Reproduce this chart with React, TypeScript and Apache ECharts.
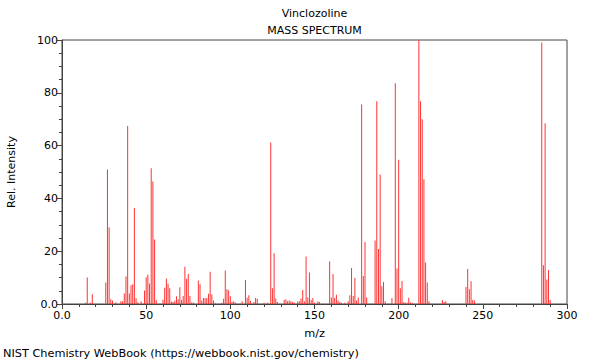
import React, { useEffect, useRef } from "react";
import * as echarts from "echarts";

const titleText = "Vinclozoline";
const subtitleText = "MASS SPECTRUM";
const xAxisName = "m/z";
const yAxisName = "Rel. Intensity";
const footerText = "NIST Chemistry WebBook (https://webbook.nist.gov/chemistry)";

const mzValues: number[] = [
  14, 15, 17, 18, 26, 27, 28, 29, 30, 32, 35, 36, 37, 38, 39, 40, 41, 42, 43, 44, 45, 47, 49, 50, 51, 52, 53, 54, 55, 56,
  60, 61, 62, 63, 64, 65, 66, 67, 68, 69, 70, 71, 72, 73, 74, 75, 76, 77, 78, 81, 82, 83, 84, 85, 86, 87, 88, 89, 90, 91,
  95, 96, 97, 98, 99, 100, 101, 102, 103, 107, 109, 110, 111, 112, 114, 115, 116, 120, 122, 124, 125, 126, 127, 128,
  132, 133, 134, 135, 136, 137, 138, 140, 141, 142, 143, 144, 145, 146, 147, 148, 149, 150, 152, 153,
  159, 160, 161, 162, 163, 164, 165, 166, 168, 170, 171, 172, 173, 174, 175, 176, 178, 179, 180, 181,
  186, 187, 188, 189, 190, 191, 192, 196, 198, 199, 200, 201, 202, 203, 204, 205, 206, 207, 208,
  212, 213, 214, 215, 216, 217, 218, 226, 227, 228, 240, 241, 242, 243, 244, 245, 285, 286, 287, 288, 289, 290,
];

const intensityValues: number[] = [
  0.5, 10.0, 0.5, 3.7, 8.1, 50.9, 29.1, 1.8, 1.3, 0.7, 1.0, 1.0, 4.0, 10.4, 67.4, 4.0, 7.1, 7.5, 36.4, 2.2, 0.7, 1.0, 5.1, 10.1, 11.2, 7.8, 51.4, 46.4, 24.4, 1.4,
  1.6, 6.2, 9.7, 7.7, 6.0, 0.9, 0.8, 1.2, 2.9, 1.8, 6.3, 1.5, 3.0, 14.1, 9.6, 11.4, 3.0, 0.6, 0.6, 8.9, 7.5, 1.3, 2.3, 2.3, 2.3, 3.9, 12.2, 3.6, 1.3, 0.4,
  0.5, 2.0, 12.7, 5.6, 5.2, 2.9, 0.8, 1.0, 0.6, 1.0, 9.1, 2.4, 3.3, 1.1, 0.8, 2.3, 2.0, 0.5, 0.5, 61.2, 6.0, 19.2, 2.1, 0.8,
  1.5, 1.8, 1.0, 1.3, 1.0, 0.8, 0.6, 0.9, 1.0, 2.1, 5.3, 1.0, 18.0, 2.5, 11.9, 1.5, 2.3, 0.5, 1.0, 0.8,
  16.2, 2.5, 11.4, 2.3, 3.5, 1.3, 0.8, 0.5, 0.5, 1.0, 3.3, 13.6, 3.0, 9.9, 1.3, 2.5, 75.6, 10.6, 23.5, 2.5,
  24.1, 76.8, 20.8, 49.1, 6.7, 8.3, 1.0, 2.3, 83.6, 13.4, 54.6, 6.0, 8.7, 0.8, 0.5, 0.5, 2.4, 0.6, 0.5,
  100, 76.8, 70.0, 47.3, 15.7, 8.1, 1.0, 1.5, 0.8, 1.0, 6.4, 13.3, 5.6, 8.6, 1.5, 1.3, 99.1, 14.7, 68.5, 9.3, 12.9, 1.5,
];

const xMin = 0;
const xMax = 300;
const xInterval = 50;
const yMin = 0;
const yMax = 100;
const yInterval = 20;

const FONT = "DejaVu Sans";

export default function App() {
  const ref = useRef<HTMLDivElement>(null);

  useEffect(() => {
    if (!ref.current) return;
    const chart = echarts.init(ref.current, undefined, { renderer: "svg" });
    const data = mzValues.map((m, i) => [m, intensityValues[i]]);
    const gridLeft = 62;
    const gridRight = 33;
    const gridTop = 40;
    const gridBottom = 56;
    const plotCenterX = gridLeft + (600 - gridLeft - gridRight) / 2;
    const plotCenterY = gridTop + (360 - gridTop - gridBottom) / 2;
    const fmt = (v: number) => (v === 0 ? "0.0" : String(v));

    chart.setOption({
      animation: false,
      backgroundColor: "#ffffff",
      grid: {
        left: gridLeft,
        right: gridRight,
        top: gridTop,
        bottom: gridBottom,
        show: true,
        borderColor: "#444",
        borderWidth: 1,
        containLabel: false,
      },
      xAxis: {
        type: "value",
        min: xMin,
        max: xMax,
        interval: xInterval,
        axisLine: { show: true, onZero: false, lineStyle: { color: "#444", width: 1 } },
        axisTick: { show: true, inside: false, length: 5, lineStyle: { color: "#444" } },
        minorTick: { show: true, splitNumber: 5, length: 3, lineStyle: { color: "#444" } },
        splitLine: { show: false },
        axisLabel: { color: "#000", fontSize: 11, fontFamily: FONT, margin: 6, formatter: fmt },
      },
      yAxis: {
        type: "value",
        min: yMin,
        max: yMax,
        interval: yInterval,
        axisLine: { show: true, lineStyle: { color: "#444", width: 1 } },
        axisTick: { show: true, inside: false, length: 5, lineStyle: { color: "#444" } },
        minorTick: { show: true, splitNumber: 4, length: 3, lineStyle: { color: "#444" } },
        splitLine: { show: false },
        axisLabel: { color: "#000", fontSize: 11, fontFamily: FONT, margin: 4, formatter: fmt },
      },
      series: [
        {
          type: "bar",
          data,
          barWidth: 1,
          itemStyle: { color: "#ff3333" },
          silent: true,
        },
      ],
      graphic: [
        {
          type: "text",
          x: plotCenterX,
          y: 13,
          style: { text: titleText, fill: "#000", font: `11px "${FONT}"`, textAlign: "center", textVerticalAlign: "middle" },
        },
        {
          type: "text",
          x: plotCenterX,
          y: 30,
          style: { text: subtitleText, fill: "#000", font: `11px "${FONT}"`, textAlign: "center", textVerticalAlign: "middle" },
        },
        {
          type: "text",
          x: plotCenterX,
          y: 333,
          style: { text: xAxisName, fill: "#000", font: `11.3px "${FONT}"`, textAlign: "center", textVerticalAlign: "middle" },
        },
        {
          type: "text",
          x: 11,
          y: plotCenterY,
          rotation: Math.PI / 2,
          style: { text: yAxisName, fill: "#000", font: `11px "${FONT}"`, textAlign: "center", textVerticalAlign: "middle" },
        },
        {
          type: "text",
          x: 3,
          y: 353,
          style: { text: footerText, fill: "#000", font: `11.3px "${FONT}"`, textAlign: "left", textVerticalAlign: "middle" },
        },
      ],
    });
    return () => chart.dispose();
  }, []);

  return (
    <div
      ref={ref}
      style={{ position: "fixed", left: 0, top: 0, width: 600, height: 360, background: "#fff" }}
    />
  );
}
